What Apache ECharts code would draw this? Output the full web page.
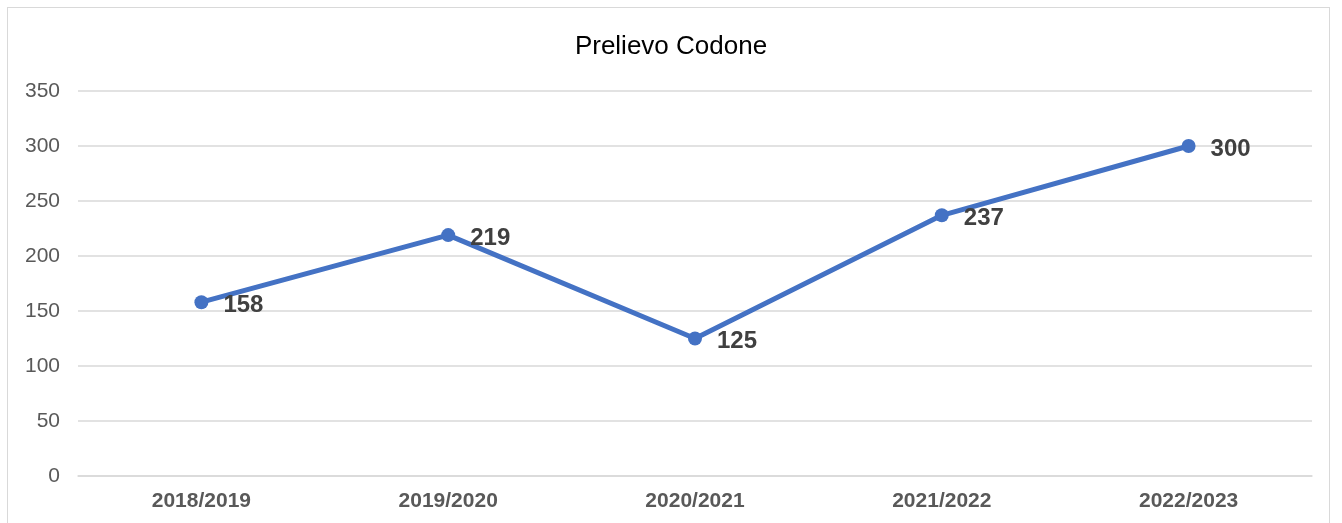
<!DOCTYPE html>
<html>
<head>
<meta charset="utf-8">
<script src="https://cdn.jsdelivr.net/npm/echarts@6/dist/echarts.min.js"></script>
<style>
html,body{margin:0;padding:0;background:#fff;}
#frame{position:absolute;left:7px;top:7px;width:1323px;height:540px;border:1.5px solid #d9d9d9;box-sizing:border-box;}
#chart{position:absolute;left:0;top:0;width:1342px;height:523px;}
</style>
</head>
<body>
<div id="frame"></div>
<div id="chart"></div>
<script>
var titleText = 'Prelievo Codone';
var categories = ['2018/2019', '2019/2020', '2020/2021', '2021/2022', '2022/2023'];
var values = [158, 219, 125, 237, 300];

var chart = echarts.init(document.getElementById('chart'));
chart.setOption({
  animation: false,
  title: {
    text: titleText, left: 'center', top: 29,
    textStyle: {fontFamily: 'Liberation Sans, Arial', fontSize: 26, fontWeight: 'normal', color: '#000'}
  },
  grid: {left: 78, right: 30, top: 91, bottom: 47},
  xAxis: {
    type: 'category', data: categories, boundaryGap: true,
    axisLine: {show: true, lineStyle: {color: '#d9d9d9', width: 1.5}},
    axisTick: {show: false},
    axisLabel: {fontFamily: 'Liberation Sans, Arial', fontSize: 21, fontWeight: 'bold', color: '#595959', margin: 15}
  },
  yAxis: {
    type: 'value', min: 0, max: 350, interval: 50,
    axisLine: {show: false}, axisTick: {show: false},
    splitLine: {lineStyle: {color: '#d9d9d9', width: 1.5}},
    axisLabel: {fontFamily: 'Liberation Sans, Arial', fontSize: 21, color: '#595959', margin: 18}
  },
  series: [{
    type: 'line', data: values,
    symbol: 'circle', symbolSize: 14,
    lineStyle: {color: '#4472C4', width: 5},
    itemStyle: {color: '#4472C4'},
    label: {
      show: true, position: 'right', distance: 15, offset: [0, 3],
      fontFamily: 'Liberation Sans, Arial', fontSize: 24, fontWeight: 'bold', color: '#404040'
    }
  }]
});
</script>
</body>
</html>
